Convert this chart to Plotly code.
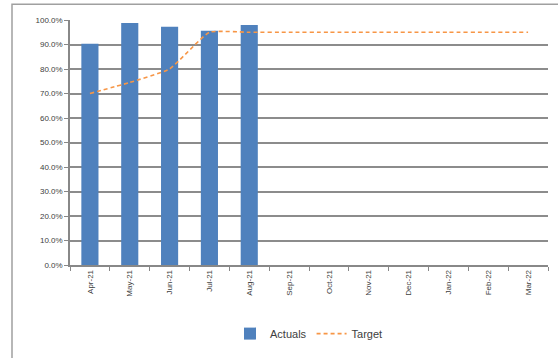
import plotly.graph_objects as go

months = ["Apr-21", "May-21", "Jun-21", "Jul-21", "Aug-21", "Sep-21", "Oct-21",
          "Nov-21", "Dec-21", "Jan-22", "Feb-22", "Mar-22"]
actuals = [0.903, 0.988, 0.972, 0.956, 0.980, None, None, None, None, None, None, None]
target = [0.70, 0.745, 0.80, 0.95, 0.95, 0.95, 0.95, 0.95, 0.95, 0.95, 0.95, 0.95]

W, H = 558, 358
L, R, T, B = 70, 10, 20, 91
pw, ph = W - L - R, H - T - B

fig = go.Figure()
fig.add_trace(go.Bar(x=months, y=actuals, name="Actuals", marker_color="#4F81BD",
                     marker_line_width=0, width=0.43))
fig.add_trace(go.Scatter(x=months, y=target, name="Target", mode="lines",
                         line=dict(color="#F79646", width=1.6, dash="4px,3px", shape="spline", smoothing=0.4)))

font = dict(family="Liberation Sans, Arial, sans-serif", size=8, color="#404040")
fig.update_layout(
    width=W, height=H, margin=dict(l=L, r=R, t=T, b=B),
    paper_bgcolor="white", plot_bgcolor="white",
    font=font, bargap=0.57,
    showlegend=True,
    legend=dict(orientation="h", x=0.5, xanchor="center", y=-0.28, yanchor="middle",
                font=dict(family="Liberation Sans, Arial, sans-serif", size=11, color="#404040"),
                traceorder="normal"),
    xaxis=dict(tickangle=-90, showline=True, linecolor="#888888", linewidth=1.5,
               ticks="outside", ticklen=4, tickcolor="#888888", tickson="boundaries",
               showgrid=False, tickfont=font),
    yaxis=dict(range=[0, 1.0], dtick=0.1, tickformat=".1%", showline=True,
               linecolor="#888888", linewidth=1.5, ticks="outside", ticklen=4,
               tickcolor="#888888", showgrid=True, gridcolor="#8c8c8c", gridwidth=1.5,
               zeroline=False, tickfont=font),
)

# outer chart border
x0 = (12 - L) / pw
y1 = 1 + (T - 4) / ph
fig.add_shape(type="rect", xref="paper", yref="paper", x0=x0, x1=1 + (R + 20) / pw,
              y0=-(B + 20) / ph, y1=y1, line=dict(color="#a0a0a0", width=1.5),
              fillcolor="rgba(0,0,0,0)", layer="below")

fig.write_html("out.html")
